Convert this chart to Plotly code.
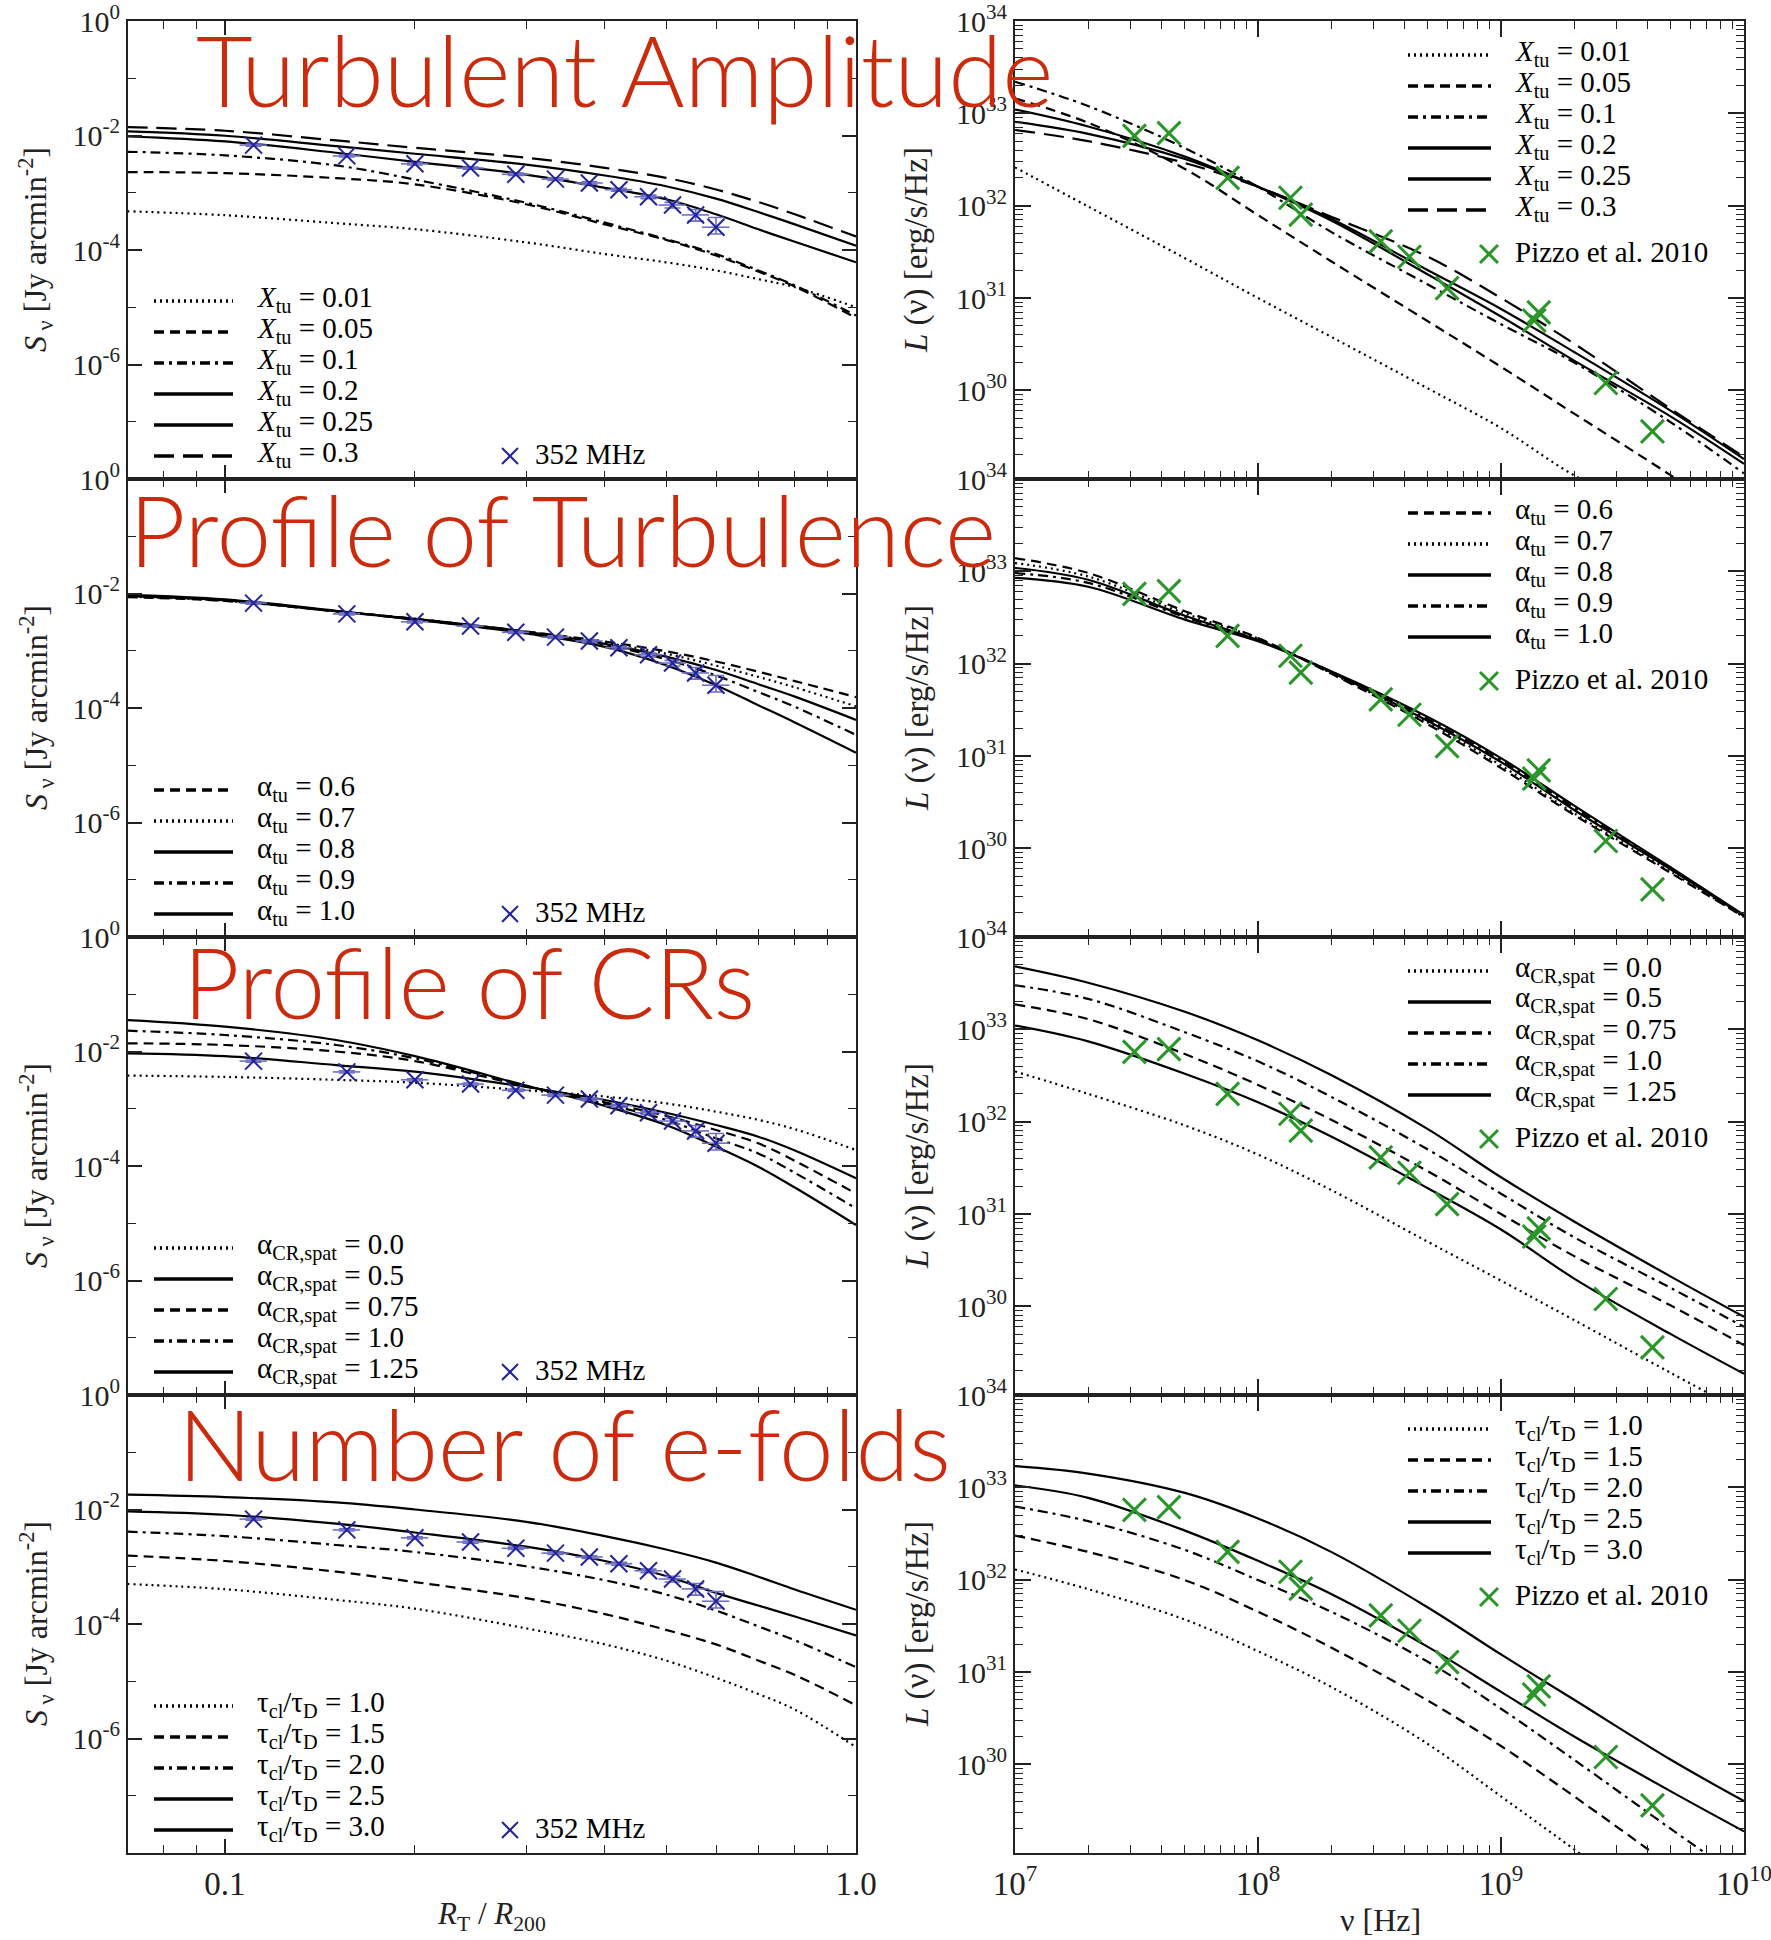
import math
import plotly.graph_objects as go

# ------------------------------------------------------------------ data
R_grid = [0.07, 0.1, 0.15, 0.2, 0.3, 0.4, 0.5, 0.6, 0.7, 0.8, 1.0]
nu_grid = [1e7, 2e7, 5e7, 1e8, 2e8, 5e8, 1e9, 2e9, 5e9, 1e10]

obs_R = [0.111, 0.156, 0.2, 0.245, 0.289, 0.334, 0.378, 0.421, 0.469, 0.512, 0.557, 0.6]
obs_S = [6.8e-3, 4.4e-3, 3.2e-3, 2.7e-3, 2.1e-3, 1.73e-3, 1.48e-3, 1.13e-3, 8.5e-4, 6.1e-4, 4.1e-4, 2.5e-4]
obs_S_err_plus = [3e-4, 2e-4, 1.5e-4, 1.2e-4, 1e-4, 9e-5, 8e-5, 7e-5, 6e-5, 7e-5, 1.0e-4, 1.2e-4]
obs_S_err_minus = [3e-4, 2e-4, 1.5e-4, 1.2e-4, 1e-4, 9e-5, 8e-5, 7e-5, 6e-5, 7e-5, 9e-5, 6e-5]

pizzo_nu = [3.1e7, 4.3e7, 7.5e7, 1.36e8, 1.5e8, 3.2e8, 4.2e8, 6.0e8, 1.37e9, 1.43e9, 2.7e9, 4.2e9]
pizzo_L = [5.7e32, 6.1e32, 2.0e32, 1.22e32, 8.0e31, 4.1e31, 2.8e31, 1.28e31, 5.7e30, 7.0e30, 1.2e30, 3.6e29]

# panel 1 : turbulent amplitude
S_xtu_001 = [4.75e-4, 4.05e-4, 2.94e-4, 2.31e-4, 1.36e-4, 8.5e-5, 6.1e-5, 4.4e-5, 3.1e-5, 2.24e-5, 1.0e-5]
S_xtu_005 = [2.3e-3, 2.2e-3, 1.8e-3, 1.4e-3, 6.3e-4, 2.8e-4, 1.5e-4, 8.0e-5, 4.2e-5, 2.3e-5, 6.5e-6]
S_xtu_01 = [5.2e-3, 4.5e-3, 3.0e-3, 1.7e-3, 6.7e-4, 3.0e-4, 1.55e-4, 8.5e-5, 4.4e-5, 2.4e-5, 7.2e-6]
S_xtu_02 = [9.7e-3, 7.9e-3, 5.0e-3, 3.46e-3, 2.08e-3, 1.22e-3, 7.7e-4, 4.2e-4, 2.3e-4, 1.39e-4, 6.1e-5]
S_xtu_025 = [1.18e-2, 9.9e-3, 6.5e-3, 4.8e-3, 3.1e-3, 2.0e-3, 1.3e-3, 7.9e-4, 4.6e-4, 2.8e-4, 1.19e-4]
S_xtu_03 = [1.4e-2, 1.21e-2, 8.2e-3, 6.1e-3, 4.1e-3, 2.72e-3, 1.82e-3, 1.14e-3, 6.9e-4, 4.2e-4, 1.72e-4]

L_xtu_001 = [2.6e32, 9.8e31, 2.7e31, 1.0e31, 3.8e30, 1.05e30, 3.9e29, 1.2e29, 3.5e28, 1.2e28]
L_xtu_005 = [1.45e33, 7.9e32, 2.5e32, 7.9e31, 2.5e31, 5.6e30, 1.8e30, 5.6e29, 1.2e29, 3.5e28]
L_xtu_01 = [2.2e33, 1.2e33, 4.2e32, 1.6e32, 5.2e31, 1.4e31, 5.2e30, 2.0e30, 4.5e29, 1.26e29]
L_xtu_02 = [1.1e33, 7.2e32, 3.4e32, 1.6e32, 6.9e31, 1.8e31, 6.3e30, 2.1e30, 5.2e29, 1.6e29]
L_xtu_025 = [8.1e32, 6.0e32, 3.2e32, 1.6e32, 7.2e31, 2.0e31, 7.6e30, 2.6e30, 6.0e29, 1.8e29]
L_xtu_03 = [6.6e32, 5.0e32, 2.9e32, 1.6e32, 7.6e31, 2.8e31, 1.0e31, 3.2e30, 6.3e29, 1.9e29]

# panel 2 : profile of turbulence
S_atu_06 = [8.6e-3, 7.4e-3, 4.9e-3, 3.6e-3, 2.17e-3, 1.45e-3, 9.8e-4, 6.5e-4, 4.3e-4, 2.95e-4, 1.55e-4]
S_atu_07 = [8.8e-3, 7.5e-3, 4.9e-3, 3.6e-3, 2.16e-3, 1.38e-3, 8.9e-4, 5.5e-4, 3.5e-4, 2.3e-4, 1.07e-4]
S_atu_08 = [9.0e-3, 7.6e-3, 4.9e-3, 3.6e-3, 2.15e-3, 1.32e-3, 7.9e-4, 4.6e-4, 2.6e-4, 1.58e-4, 6.2e-5]
S_atu_09 = [9.2e-3, 7.7e-3, 4.9e-3, 3.5e-3, 2.1e-3, 1.26e-3, 7.1e-4, 3.7e-4, 1.9e-4, 1.05e-4, 3.4e-5]
S_atu_10 = [9.5e-3, 7.9e-3, 5.0e-3, 3.5e-3, 2.0e-3, 1.17e-3, 5.6e-4, 2.5e-4, 1.12e-4, 5.6e-5, 1.66e-5]

L_atu_06 = [1.39e33, 9.6e32, 3.7e32, 1.9e32, 7.8e31, 2.2e31, 7.4e30, 2.3e30, 5.4e29, 1.8e29]
L_atu_07 = [1.23e33, 8.8e32, 3.5e32, 1.87e32, 7.9e31, 2.3e31, 7.9e30, 2.4e30, 5.6e29, 1.8e29]
L_atu_08 = [1.09e33, 8.1e32, 3.3e32, 1.8e32, 8.1e31, 2.4e31, 8.6e30, 2.6e30, 5.9e29, 1.85e29]
L_atu_09 = [9.6e32, 7.5e32, 3.2e32, 1.8e32, 8.2e31, 2.5e31, 9.0e30, 2.75e30, 6.1e29, 1.87e29]
L_atu_10 = [8.5e32, 6.8e32, 3.0e32, 1.75e32, 8.3e31, 2.65e31, 9.5e30, 2.9e30, 6.2e29, 1.9e29]

# panel 3 : profile of CRs
S_acr_000 = [3.8e-3, 3.6e-3, 3.2e-3, 2.85e-3, 2.1e-3, 1.63e-3, 1.24e-3, 8.9e-4, 6.4e-4, 4.4e-4, 1.9e-4]
S_acr_050 = [9.3e-3, 8.3e-3, 5.8e-3, 4.45e-3, 2.4e-3, 1.42e-3, 8.5e-4, 5.2e-4, 3.25e-4, 1.86e-4, 6.1e-5]
S_acr_075 = [1.39e-2, 1.3e-2, 1.0e-2, 6.8e-3, 2.45e-3, 1.3e-3, 7.5e-4, 4.25e-4, 2.49e-4, 1.23e-4, 3.3e-5]
S_acr_100 = [2.31e-2, 1.94e-2, 1.3e-2, 7.6e-3, 2.5e-3, 1.22e-3, 6.4e-4, 3.04e-4, 1.66e-4, 7.6e-5, 1.82e-5]
S_acr_125 = [3.55e-2, 2.72e-2, 1.59e-2, 8.3e-3, 2.55e-3, 1.12e-3, 5.2e-4, 2.17e-4, 9.7e-5, 4.2e-5, 9.3e-6]

L_acr_000 = [3.5e32, 2.0e32, 9.1e31, 4.4e31, 1.82e31, 5.0e30, 1.9e30, 7.1e29, 1.9e29, 7.1e28]
L_acr_050 = [1.1e33, 7.4e32, 3.3e32, 1.62e32, 6.9e31, 1.9e31, 6.8e30, 2.0e30, 5.0e29, 1.86e29]
L_acr_075 = [1.86e33, 1.29e33, 5.4e32, 2.5e32, 1.05e32, 2.9e31, 1.0e31, 3.5e30, 1.02e30, 3.8e29]
L_acr_100 = [3.0e33, 2.14e33, 9.3e32, 4.5e32, 1.86e32, 5.0e31, 1.66e31, 5.6e30, 1.58e30, 6.0e29]
L_acr_125 = [4.8e33, 3.2e33, 1.55e33, 7.6e32, 3.2e32, 8.3e31, 2.5e31, 8.3e30, 2.1e30, 7.7e29]

# panel 4 : number of e-folds
S_tau_10 = [5.0e-4, 4.05e-4, 2.64e-4, 1.85e-4, 8.4e-5, 4.4e-5, 2.3e-5, 1.15e-5, 6.0e-6, 3.2e-6, 7.1e-7]
S_tau_15 = [1.57e-3, 1.26e-3, 8.2e-4, 5.4e-4, 2.83e-4, 1.49e-4, 7.9e-5, 4.4e-5, 2.3e-5, 1.29e-5, 3.8e-6]
S_tau_20 = [4.1e-3, 3.43e-3, 2.4e-3, 1.81e-3, 1.02e-3, 5.8e-4, 3.27e-4, 1.72e-4, 9.1e-5, 5.2e-5, 1.76e-5]
S_tau_25 = [9.3e-3, 8.1e-3, 5.65e-3, 3.96e-3, 2.24e-3, 1.26e-3, 6.9e-4, 3.5e-4, 2.1e-4, 1.35e-4, 6.3e-5]
S_tau_30 = [1.82e-2, 1.65e-2, 1.33e-2, 1.0e-2, 6.1e-3, 3.43e-3, 2.0e-3, 1.18e-3, 6.7e-4, 4.0e-4, 1.77e-4]

L_tau_10 = [1.29e32, 7.9e31, 3.7e31, 1.68e31, 6.9e30, 1.66e30, 4.5e29, 1.2e29, 2.0e28, 6.0e27]
L_tau_15 = [3.0e32, 2.0e32, 9.9e31, 4.5e31, 1.84e31, 4.9e30, 1.58e30, 4.5e29, 7.9e28, 2.0e28]
L_tau_20 = [6.2e32, 4.3e32, 2.1e32, 9.9e31, 4.5e31, 1.29e31, 4.0e30, 1.12e30, 2.0e29, 5.6e28]
L_tau_25 = [1.05e33, 7.7e32, 3.4e32, 1.6e32, 7.0e31, 1.87e31, 6.1e30, 2.0e30, 5.1e29, 1.88e29]
L_tau_30 = [1.7e33, 1.41e33, 8.7e32, 4.6e32, 2.0e32, 5.0e31, 1.55e31, 5.0e30, 1.12e30, 4.0e29]

panel_titles = ["Turbulent Amplitude", "Profile of Turbulence", "Profile of CRs", "Number of e-folds"]

labels_xtu = ["0.01", "0.05", "0.1", "0.2", "0.25", "0.3"]
labels_atu = ["0.6", "0.7", "0.8", "0.9", "1.0"]
labels_acr = ["0.0", "0.5", "0.75", "1.0", "1.25"]
labels_tau = ["1.0", "1.5", "2.0", "2.5", "3.0"]

left_major_y = [1e-6, 1e-4, 1e-2, 1.0]
left_minor_y = [1e-7, 1e-5, 1e-3, 1e-1]
left_major_x = [0.1, 1.0]
left_minor_x = [0.08, 0.09, 0.2, 0.3, 0.4, 0.5, 0.6, 0.7, 0.8, 0.9]
right_major_x = [1e7, 1e8, 1e9, 1e10]
right_major_y = [1e30, 1e31, 1e32, 1e33, 1e34]
right_minor_x = [float(m) * 10.0 ** e for e in (7, 8, 9) for m in range(2, 10)]
right_minor_y = [float(m) * 10.0 ** e for e in (29, 30, 31, 32, 33) for m in range(2, 10)]

# ------------------------------------------------------------------ styles
W, H = 1771, 1940
DOT = "2px,4px"
DASH = "10px,6px"
DASHDOT = "10px,5px,3px,5px"
LONGDASH = "20px,9px"
SOLID = "solid"

BLUE = "#23239a"
BLUE_ERR = "#6e6ec4"
GREEN = "#2a962a"
RED = "#cc2a0c"
AX = "#222222"
SERIF = "Liberation Serif"
TITLE_FONT = "Lato"

LEFT_X = (128, 856)
RIGHT_X = (1015, 1744)
ROW_TOP = [21, 479, 937, 1395]
ROW_H = 458


def fx(px):
    return px / W


def fy(px):
    return 1 - px / H


panels = [
    dict(
        S=[S_xtu_001, S_xtu_005, S_xtu_01, S_xtu_02, S_xtu_025, S_xtu_03],
        L=[L_xtu_001, L_xtu_005, L_xtu_01, L_xtu_02, L_xtu_025, L_xtu_03],
        dash=[DOT, DASH, DASHDOT, SOLID, SOLID, LONGDASH],
        names=["<i>X</i><sub>tu</sub> = " + v for v in labels_xtu],
    ),
    dict(
        S=[S_atu_06, S_atu_07, S_atu_08, S_atu_09, S_atu_10],
        L=[L_atu_06, L_atu_07, L_atu_08, L_atu_09, L_atu_10],
        dash=[DASH, DOT, SOLID, DASHDOT, SOLID],
        names=["α<sub>tu</sub> = " + v for v in labels_atu],
    ),
    dict(
        S=[S_acr_000, S_acr_050, S_acr_075, S_acr_100, S_acr_125],
        L=[L_acr_000, L_acr_050, L_acr_075, L_acr_100, L_acr_125],
        dash=[DOT, SOLID, DASH, DASHDOT, SOLID],
        names=["α<sub>CR,spat</sub> = " + v for v in labels_acr],
    ),
    dict(
        S=[S_tau_10, S_tau_15, S_tau_20, S_tau_25, S_tau_30],
        L=[L_tau_10, L_tau_15, L_tau_20, L_tau_25, L_tau_30],
        dash=[DOT, DASH, DASHDOT, SOLID, SOLID],
        names=["τ<sub>cl</sub>/τ<sub>D</sub> = " + v for v in labels_tau],
    ),
]

fig = go.Figure()
layout = dict(
    width=W,
    height=H,
    margin=dict(l=0, r=0, t=0, b=0, autoexpand=False),
    paper_bgcolor="white",
    plot_bgcolor="white",
    showlegend=False,
)
shapes = []
annotations = []


def axis_common():
    return dict(
        type="log",
        automargin=False,
        showgrid=False,
        zeroline=False,
        showline=True,
        linewidth=2,
        linecolor=AX,
        mirror="allticks",
        ticks="inside",
        tickcolor=AX,
        tickwidth=1.6,
        ticklabeloverflow="allow",
        tickfont=dict(family=SERIF, size=30, color=AX),
    )


def sup_label(v):
    return "10<sup>%d</sup>" % round(math.log10(v))


for i, p in enumerate(panels):
    top = ROW_TOP[i]
    bot = top + ROW_H
    ydom = [fy(bot), fy(top)]
    nl = 2 * i + 1
    nr = 2 * i + 2
    last = i == 3

    xa = axis_common()
    xa.update(
        domain=[fx(LEFT_X[0]), fx(LEFT_X[1])],
        range=[math.log10(0.0702), 0],
        tickmode="array",
        tickvals=left_major_x,
        ticktext=["0.1", "1.0"],
        ticklen=14,
        minor=dict(tickmode="array", tickvals=left_minor_x, ticks="inside", ticklen=8, tickcolor=AX, tickwidth=1.4),
        showticklabels=last,
        anchor="y%d" % nl,
        tickfont=dict(family=SERIF, size=33, color=AX),
    )
    ya = axis_common()
    ya.update(
        domain=ydom,
        range=[-8, 0],
        tickmode="array",
        tickvals=left_major_y,
        ticktext=[sup_label(v) for v in left_major_y],
        ticklen=14,
        minor=dict(tickmode="array", tickvals=left_minor_y, ticks="inside", ticklen=8, tickcolor=AX, tickwidth=1.4),
        anchor="x%d" % nl,
    )
    layout["xaxis" if nl == 1 else "xaxis%d" % nl] = xa
    layout["yaxis" if nl == 1 else "yaxis%d" % nl] = ya

    xb = axis_common()
    xb.update(
        domain=[fx(RIGHT_X[0]), fx(RIGHT_X[1])],
        range=[7, 10],
        tickmode="array",
        tickvals=right_major_x,
        ticktext=[sup_label(v) for v in right_major_x],
        ticklen=16,
        minor=dict(tickmode="array", tickvals=right_minor_x, ticks="inside", ticklen=8, tickcolor=AX, tickwidth=1.4),
        showticklabels=last,
        anchor="y%d" % nr,
        tickfont=dict(family=SERIF, size=33, color=AX),
    )
    yb = axis_common()
    yb.update(
        domain=ydom,
        range=[29.04, 34],
        tickmode="array",
        tickvals=right_major_y,
        ticktext=[sup_label(v) for v in right_major_y],
        ticklen=16,
        minor=dict(tickmode="array", tickvals=right_minor_y, ticks="inside", ticklen=8, tickcolor=AX, tickwidth=1.4),
        anchor="x%d" % nr,
    )
    layout["xaxis%d" % nr] = xb
    layout["yaxis%d" % nr] = yb

    xl = "x" if nl == 1 else "x%d" % nl
    yl = "y" if nl == 1 else "y%d" % nl
    xr = "x%d" % nr
    yr = "y%d" % nr

    for S, L, d, name in zip(p["S"], p["L"], p["dash"], p["names"]):
        fig.add_trace(go.Scatter(x=R_grid, y=S, mode="lines", xaxis=xl, yaxis=yl,
                                 line=dict(color="black", width=2.2, dash=d, shape="spline", smoothing=1.0),
                                 name=name, hoverinfo="skip"))
        fig.add_trace(go.Scatter(x=nu_grid, y=L, mode="lines", xaxis=xr, yaxis=yr,
                                 line=dict(color="black", width=2.2, dash=d, shape="spline", smoothing=1.0),
                                 name=name, hoverinfo="skip"))

    fig.add_trace(go.Scatter(
        x=obs_R, y=obs_S, mode="markers", xaxis=xl, yaxis=yl, name="352 MHz",
        marker=dict(symbol="x-thin", size=17, color=BLUE, line=dict(width=2, color=BLUE)),
        error_x=dict(type="percent", value=5, color=BLUE_ERR, thickness=1.6, width=0),
        error_y=dict(type="data", array=obs_S_err_plus, arrayminus=obs_S_err_minus, symmetric=False,
                     color=BLUE_ERR, thickness=1.6, width=8),
    ))
    fig.add_trace(go.Scatter(
        x=pizzo_nu, y=pizzo_L, mode="markers", xaxis=xr, yaxis=yr, name="Pizzo et al. 2010",
        marker=dict(symbol="x-thin", size=23, color=GREEN, line=dict(width=3, color=GREEN)),
    ))

    # ---------------- manual legends
    n = len(p["names"])
    rows_left = [bot - 23 - 31 * (n - 1 - k) for k in range(n)]
    for k in range(n):
        yk = rows_left[k]
        shapes.append(dict(type="line", xref="paper", yref="paper", x0=fx(154), x1=fx(233), y0=fy(yk), y1=fy(yk),
                           line=dict(color="black", width=3.5, dash=p["dash"][k])))
        annotations.append(dict(xref="paper", yref="paper", x=fx(255), y=fy(yk - 2), xanchor="left", yanchor="middle",
                                text=p["names"][k], showarrow=False,
                                font=dict(family=SERIF, size=29, color="black")))
    ym = rows_left[-1]
    for sgn in (1, -1):
        shapes.append(dict(type="line", xref="paper", yref="paper", x0=fx(502), x1=fx(518),
                           y0=fy(ym - 8 * sgn), y1=fy(ym + 8 * sgn), line=dict(color=BLUE, width=2)))
    annotations.append(dict(xref="paper", yref="paper", x=fx(533), y=fy(ym - 2), xanchor="left", yanchor="middle",
                            text="352 MHz", showarrow=False, font=dict(family=SERIF, size=29, color="black")))

    rows_right = [top + 3 + 31 * (k + 1) for k in range(n)]
    for k in range(n):
        yk = rows_right[k]
        shapes.append(dict(type="line", xref="paper", yref="paper", x0=fx(1408), x1=fx(1491), y0=fy(yk), y1=fy(yk),
                           line=dict(color="black", width=3.5, dash=p["dash"][k])))
        annotations.append(dict(xref="paper", yref="paper", x=fx(1513), y=fy(yk - 2), xanchor="left", yanchor="middle",
                                text=p["names"][k], showarrow=False,
                                font=dict(family=SERIF, size=29, color="black")))
    yp = rows_right[-1] + 44
    for sgn in (1, -1):
        shapes.append(dict(type="line", xref="paper", yref="paper", x0=fx(1480), x1=fx(1498),
                           y0=fy(yp - 9 * sgn), y1=fy(yp + 9 * sgn), line=dict(color=GREEN, width=3)))
    annotations.append(dict(xref="paper", yref="paper", x=fx(1513), y=fy(yp - 2), xanchor="left", yanchor="middle",
                            text="Pizzo et al. 2010", showarrow=False, font=dict(family=SERIF, size=29, color="black")))

    yc = top + ROW_H / 2
    annotations.append(dict(xref="paper", yref="paper", x=fx(36), y=fy(yc), xanchor="center", yanchor="middle",
                            text="<i>S</i><sub> ν</sub> [Jy arcmin<sup>-2</sup>]", textangle=-90, showarrow=False,
                            font=dict(family=SERIF, size=32, color=AX)))
    annotations.append(dict(xref="paper", yref="paper", x=fx(917), y=fy(yc), xanchor="center", yanchor="middle",
                            text="<i>L</i> (ν) [erg/s/Hz]", textangle=-90, showarrow=False,
                            font=dict(family=SERIF, size=33, color=AX)))

annotations.append(dict(xref="paper", yref="paper", x=fx(491), y=fy(1916), xanchor="center", yanchor="middle",
                        text="<i>R</i><sub>T</sub> / <i>R</i><sub>200</sub>", showarrow=False,
                        font=dict(family=SERIF, size=31, color=AX)))
annotations.append(dict(xref="paper", yref="paper", x=fx(1380), y=fy(1920), xanchor="center", yanchor="middle",
                        text="ν [Hz]", showarrow=False, font=dict(family=SERIF, size=32, color=AX)))

title_pos = [(194, 69), (127, 529), (181, 981), (176, 1443)]
for t, (tx, ty) in zip(panel_titles, title_pos):
    annotations.append(dict(xref="paper", yref="paper", x=fx(tx), y=fy(ty), xanchor="left", yanchor="middle",
                            text=t, showarrow=False,
                            font=dict(family=TITLE_FONT, size=98, color=RED, weight=300)))

layout["shapes"] = shapes
layout["annotations"] = annotations
fig.update_layout(**layout)

fig.write_html("out.html", config={"displayModeBar": False})
with open("out.html", "r", encoding="utf-8") as f:
    html = f.read()
html = html.replace("<head>", "<head><style>html,body{margin:0;padding:0;}</style>", 1)
with open("out.html", "w", encoding="utf-8") as f:
    f.write(html)
